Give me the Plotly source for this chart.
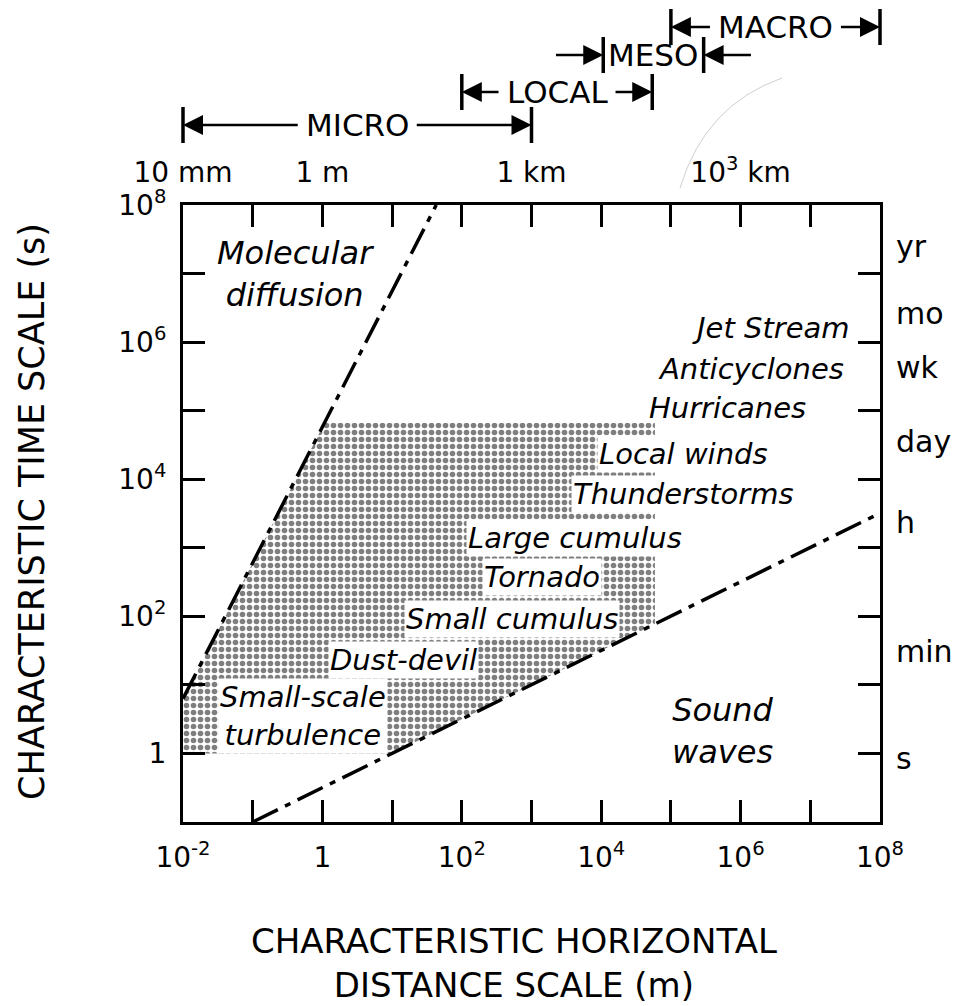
import numpy as np
import plotly.graph_objects as go

# ---------------- data ----------------
diff_L = [1e-2, 43.0]            # molecular-diffusion boundary, length (m)
diff_t = [6.3, 1e8]              # time (s)
sound_L = [1e-1, 1e8]            # sound-wave boundary, length (m)
sound_t = [1e-1, 3.2e3]          # time (s)
shade_L = [1e-2, 10.0, 5.9e4, 5.9e4, 1.07, 1e-2]   # shaded atmospheric-motion region
shade_t = [1.0, 1.0, 77.0, 6.6e4, 6.6e4, 6.3]

phen_names = ["Jet Stream", "Anticyclones", "Hurricanes", "Local winds", "Thunderstorms",
              "Large cumulus", "Tornado", "Small cumulus", "Dust-devil",
              "Small-scale<br>turbulence"]
phen_L = [4.0e7, 3.2e7, 9.3e6, 1.5e5, 1.5e5, 4.2e3, 1.4e3, 5.2e2, 14.5, 0.52]
phen_t = [1.6e6, 4.0e5, 1.1e5, 2.3e4, 6.0e3, 1.4e3, 3.7e2, 91.0, 23.0, 3.5]

region_names = ["Molecular<br>diffusion", "Sound<br>waves"]
region_L = [0.41, 5.6e5]
region_t = [9.8e6, 2.1]

unit_names = ["yr", "mo", "wk", "day", "h", "min", "s"]
unit_t = [2.5e7, 2.6e6, 4.2e5, 3.5e4, 2.3e3, 31.0, 0.85]

bottom_tick_vals = [1e-2, 1, 1e2, 1e4, 1e6, 1e8]
bottom_tick_text = ["10<sup>-2</sup>", "1", "10<sup>2</sup>", "10<sup>4</sup>",
                    "10<sup>6</sup>", "10<sup>8</sup>"]
left_tick_vals = [1, 1e2, 1e4, 1e6, 1e8]
left_tick_text = ["1", "10<sup>2</sup>", "10<sup>4</sup>", "10<sup>6</sup>", "10<sup>8</sup>"]
top_tick_vals = [1e-2, 1, 1e3, 1e6]
top_tick_text = ["10 mm", "1 m", "1 km", "10<sup>3</sup> km"]

scale_names = ["MICRO", "LOCAL", "MESO", "MACRO"]
scale_lo = [1e-2, 1e2, 1.07e4, 1e5]
scale_hi = [1e3, 5.4e4, 2.95e5, 1e8]

# ---------------- layout constants ----------------
OFF = 8                      # default page body margin
W, H = 961 - OFF, 1006 - OFF
ML, MR, MT, MB = 183 - OFF, 81, 205 - OFF, 184
PW, PH = W - ML - MR, H - MT - MB
XR = [-2, 8]
YR = [-1, 8]
PX_DEC = PW / (XR[1] - XR[0])
FONT = "DejaVu Sans"

def px_to_paper_x(px):
    return (px - OFF - ML) / PW

def px_to_paper_y(py):
    return (PH - (py - OFF - MT)) / PH

def labels_for(vals, texts, allvals):
    m = {round(np.log10(v), 3): t for v, t in zip(vals, texts)}
    return [m.get(round(np.log10(v), 3), "") for v in allvals]

x_dec = [10.0 ** k for k in range(XR[0], XR[1] + 1)]
y_dec = [10.0 ** k for k in range(YR[0], YR[1] + 1)]

fig = go.Figure()

fig.add_trace(go.Scatter(
    x=shade_L, y=shade_t, mode="lines", fill="toself",
    fillcolor="white",
    fillpattern=dict(shape=".", fgcolor="black", bgcolor="white", size=7, solidity=0.5),
    line=dict(width=0), hoverinfo="skip", showlegend=False))

dash = "28px,8px,6px,8px"
fig.add_trace(go.Scatter(x=diff_L, y=diff_t, mode="lines",
                         line=dict(color="black", width=3.5, dash=dash),
                         showlegend=False, hoverinfo="skip"))
fig.add_trace(go.Scatter(x=sound_L, y=sound_t, mode="lines",
                         line=dict(color="black", width=3.5, dash=dash),
                         showlegend=False, hoverinfo="skip"))
# invisible trace to activate the top/right axes
fig.add_trace(go.Scatter(x=[1], y=[1], mode="markers", marker=dict(opacity=0),
                         xaxis="x2", yaxis="y2", showlegend=False, hoverinfo="skip"))

axis_common = dict(type="log", showgrid=False, zeroline=False, showline=True,
                   linecolor="black", linewidth=3, ticks="inside", ticklen=22,
                   tickwidth=2.5, tickcolor="black", tickmode="array", automargin=False,
                   tickfont=dict(family=FONT, size=28, color="black"))

fig.update_layout(
    width=W, height=H, autosize=False,
    margin=dict(l=ML, r=MR, t=MT, b=MB),
    paper_bgcolor="white", plot_bgcolor="white",
    showlegend=False,
    xaxis=dict(axis_common, range=XR, tickvals=x_dec,
               ticktext=labels_for(bottom_tick_vals, bottom_tick_text, x_dec),
               ticklabelstandoff=8),
    xaxis2=dict(axis_common, range=XR, overlaying="x", side="top", anchor="y",
                tickvals=x_dec,
                ticktext=labels_for(top_tick_vals, top_tick_text, x_dec),
                ticklabelstandoff=9),
    yaxis=dict(axis_common, range=YR, tickvals=y_dec,
               ticktext=labels_for(left_tick_vals, left_tick_text, y_dec),
               ticklabelstandoff=8),
    yaxis2=dict(axis_common, range=YR, overlaying="y", side="right", anchor="x",
                tickvals=y_dec, ticktext=["" for _ in y_dec]),
)

ann = []
# phenomena labels
for i, (name, L, t) in enumerate(zip(phen_names, phen_L, phen_t)):
    right = i < 3
    ann.append(dict(x=np.log10(L), y=np.log10(t), xref="x", yref="y", text=name,
                    showarrow=False, xanchor="right" if right else "center",
                    yanchor="middle", bgcolor=None if right else "white",
                    borderpad=1,
                    font=dict(family=FONT, size=29, color="black", style="italic")))
# region labels
for name, L, t in zip(region_names, region_L, region_t):
    ann.append(dict(x=np.log10(L), y=np.log10(t), xref="x", yref="y", text=name,
                    showarrow=False, xanchor="center", yanchor="middle",
                    font=dict(family=FONT, size=32, color="black", style="italic")))
# time unit labels on the right
for name, t in zip(unit_names, unit_t):
    ann.append(dict(x=1 + 14 / PW, y=np.log10(t), xref="paper", yref="y", text=name,
                    showarrow=False, xanchor="left", yanchor="middle",
                    font=dict(family=FONT, size=30, color="black")))

# axis titles
ann.append(dict(x=px_to_paper_x(32), y=px_to_paper_y(512), xref="paper", yref="paper",
                text="CHARACTERISTIC TIME SCALE (s)", textangle=-90, showarrow=False,
                xanchor="center", yanchor="middle",
                font=dict(family=FONT, size=35, color="black")))
ann.append(dict(x=px_to_paper_x(514), y=px_to_paper_y(963), xref="paper", yref="paper",
                text="CHARACTERISTIC HORIZONTAL<br>DISTANCE SCALE (m)", showarrow=False,
                xanchor="center", yanchor="middle",
                font=dict(family=FONT, size=34, color="black")))

# scale brackets at the top
row_px = [125, 92, 55, 27]
label_half_px = [58, 57, 44, 64]
shapes = []
arrow_style = dict(showarrow=True, arrowhead=2, arrowsize=1.6, arrowwidth=2.5,
                   arrowcolor="black", standoff=0, text="", xref="x", axref="x",
                   yref="paper", ayref="pixel", ay=0)
for name, lo, hi, py, half in zip(scale_names, scale_lo, scale_hi, row_px, label_half_px):
    yp = px_to_paper_y(py)
    llo, lhi = np.log10(lo), np.log10(hi)
    mid = 0.5 * (llo + lhi)
    ann.append(dict(x=mid, y=yp, xref="x", yref="paper", text=name, showarrow=False,
                    xanchor="center", yanchor="middle",
                    font=dict(family=FONT, size=31, color="black")))
    for lv in (llo, lhi):
        xp = (lv - XR[0]) / (XR[1] - XR[0])
        shapes.append(dict(type="line", xref="paper", yref="paper", x0=xp, x1=xp,
                           y0=yp - 18 / PH, y1=yp + 18 / PH,
                           line=dict(color="black", width=3.5)))
    if name == "MESO":
        out = 0.7
        ann.append(dict(arrow_style, x=llo, y=yp, ax=llo - out))
        ann.append(dict(arrow_style, x=lhi, y=yp, ax=lhi + out))
    else:
        ann.append(dict(arrow_style, x=llo, y=yp, ax=mid - half / PX_DEC))
        ann.append(dict(arrow_style, x=lhi, y=yp, ax=mid + half / PX_DEC))

# faint scanner arc seen in the top-right of the original figure
p0 = (px_to_paper_x(680), px_to_paper_y(188))
pc = (px_to_paper_x(705), px_to_paper_y(105))
p1 = (px_to_paper_x(782), px_to_paper_y(78))
shapes.append(dict(type="path", xref="paper", yref="paper",
                   path=f"M {p0[0]},{p0[1]} Q {pc[0]},{pc[1]} {p1[0]},{p1[1]}",
                   line=dict(color="#cfcfcf", width=1)))

fig.update_layout(annotations=ann, shapes=shapes)

fig.write_html("out.html")
